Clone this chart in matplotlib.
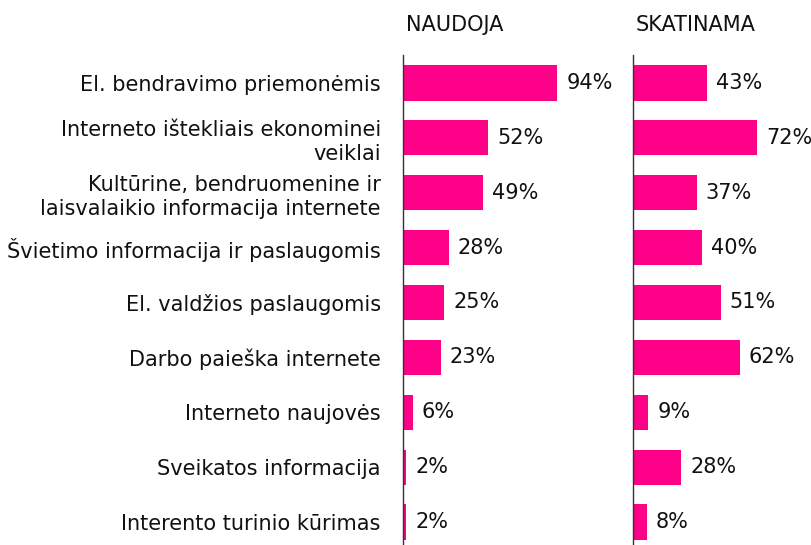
import matplotlib.pyplot as plt

categories = [
    'El. bendravimo priemonėmis',
    'Interneto ištekliais ekonominei\nveiklai',
    'Kultūrine, bendruomenine ir\nlaisvalaikio informacija internete',
    'Švietimo informacija ir paslaugomis',
    'El. valdžios paslaugomis',
    'Darbo paieška internete',
    'Interneto naujovės',
    'Sveikatos informacija',
    'Interento turinio kūrimas',
]
naudoja = [94, 52, 49, 28, 25, 23, 6, 2, 2]
skatinama = [43, 72, 37, 40, 51, 62, 9, 28, 8]
titles = ['NAUDOJA', 'SKATINAMA']

BAR_COLOR = '#FF0088'
TXT = '#111111'
FS = 15
W, H = 812, 545

fig = plt.figure(figsize=(W / 100, H / 100), dpi=100)
plt.rcParams['font.family'] = ['DejaVu Sans']

# axes placed in pixel units, converted to figure fractions
top_px, bot_px = 55.5, 549.5
panels = [
    (403, 610, 126, naudoja),
    (633, 812, 104, skatinama),
]

n = len(categories)
ypos = list(range(n))

for k, (x0, x1, xmax, vals) in enumerate(panels):
    ax = fig.add_axes([x0 / W, (H - bot_px) / H, (x1 - x0) / W, (bot_px - top_px) / H])
    ax.barh(ypos, vals, height=0.64, color=BAR_COLOR)
    ax.set_xlim(0, xmax)
    ax.set_ylim(n - 0.5, -0.5)
    for y, v in zip(ypos, vals):
        ax.text(v + 9 * xmax / (x1 - x0), y, '%d%%' % v, va='center', ha='left',
                fontsize=FS, color=TXT)
    for s in ['top', 'right', 'bottom']:
        ax.spines[s].set_visible(False)
    ax.spines['left'].set_color('#333333')
    ax.spines['left'].set_linewidth(1.0)
    ax.set_xticks([])
    ax.tick_params(axis='y', length=0)
    if k == 0:
        ax.set_yticks(ypos)
        ax.set_yticklabels(categories, fontsize=FS, color=TXT, linespacing=1.27)
        ax.tick_params(axis='y', pad=16)
        for lbl in ax.get_yticklabels():
            lbl.set_horizontalalignment('right')
            lbl.set_multialignment('right')
    else:
        ax.set_yticks([])
    fig.text((x0 + 3) / W, 1 - 25 / H, titles[k], ha='left', va='center',
             fontsize=FS, color=TXT)

fig.savefig('out.png', dpi=100)
